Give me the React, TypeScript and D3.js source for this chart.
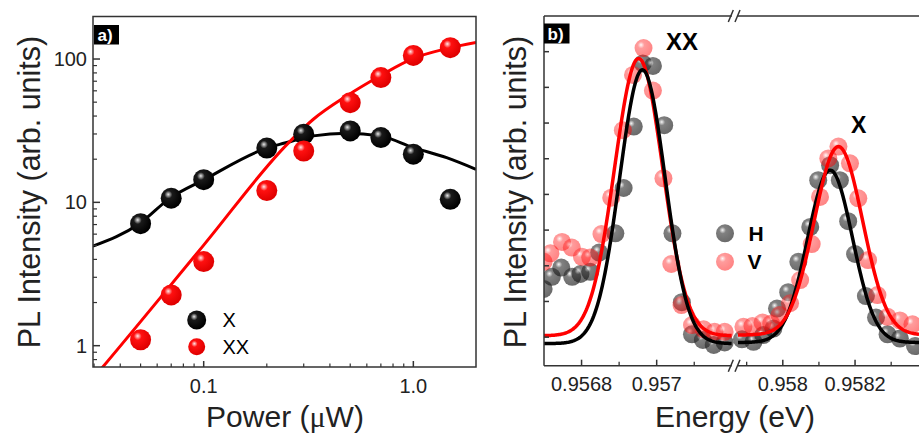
import React from 'react';
import * as d3 from 'd3';

// ---------- Panel a data ----------
const powerPts = [0.05, 0.07, 0.1, 0.2, 0.3, 0.5, 0.7, 1.0, 1.5];
const intensityX = [7.1, 10.7, 14.4, 23.9, 29.9, 31.5, 28.3, 21.7, 10.5];
const intensityXX = [1.1, 2.26, 3.86, 12.1, 22.8, 49.6, 74.2, 106, 120];

const fitPowerX = [0.0296, 0.0497, 0.0691, 0.0996, 0.1998, 0.2302, 0.258, 0.3335, 0.4808, 0.693, 1.0, 1.441, 1.99];
const fitValX = [4.95, 7.15, 10.7, 14.3, 23.9, 25.4, 26.5, 29.1, 30.4, 29.1, 24.1, 20.5, 17.0];
const fitPowerXX = [0.0296, 0.0326, 0.1, 0.2531, 0.3335, 0.4808, 0.693, 1.0, 1.441, 1.99];
const fitValXX = [0.588, 0.695, 5.03, 25.9, 38.0, 55.3, 76.2, 101, 118.2, 130.5];

const yTicksA = [1, 10, 100];
const xTickLabelsA = ['0.1', '1.0'];
const xTicksA = [0.1, 1.0];

// ---------- Panel b data ----------
const energyV = [
  0.956699, 0.956717, 0.956748, 0.956774, 0.956801, 0.956823, 0.956853, 0.956879, 0.95691, 0.956937,
  0.956965, 0.95699, 0.957018, 0.957039, 0.957066, 0.957094, 0.957125, 0.957154, 0.957181,
  0.957891, 0.957916, 0.957944, 0.957968, 0.957991, 0.95802, 0.958048, 0.95808, 0.958103, 0.958126,
  0.958154, 0.958186, 0.958209, 0.958236, 0.958262, 0.95829, 0.958324, 0.958359,
];
const intensityV = [
  3.11, 3.35, 3.67, 3.51, 3.25, 3.23, 3.89, 4.91, 6.8, 8.35,
  9.1, 7.91, 5.45, 3.05, 1.9, 1.34, 1.22, 1.15, 1.15,
  1.29, 1.31, 1.41, 1.38, 1.62, 1.95, 2.6, 3.61, 4.93, 6.01,
  6.34, 5.87, 4.89, 3.16, 2.18, 1.57, 1.47, 1.36,
];
const energyH = [
  0.956699, 0.956721, 0.956746, 0.956775, 0.956797, 0.956823, 0.956847, 0.95689, 0.956912, 0.956939,
  0.956963, 0.95699, 0.95702, 0.957042, 0.957067, 0.957094, 0.957123, 0.957152, 0.957181,
  0.957887, 0.957919, 0.957946, 0.957974, 0.957984, 0.958015, 0.958043, 0.958076, 0.958098, 0.958131,
  0.958158, 0.958181, 0.9582, 0.95823, 0.958258, 0.95829, 0.958324, 0.958366,
];
const intensityH = [
  2.35, 2.69, 2.95, 2.69, 2.77, 2.83, 3.37, 3.91, 5.18, 6.9,
  8.67, 8.6, 6.94, 3.91, 1.98, 1.08, 0.92, 0.78, 0.85,
  0.94, 0.87, 1.06, 1.24, 1.8, 2.26, 3.11, 4.09, 5.4, 5.82,
  5.4, 4.25, 3.33, 2.15, 1.55, 1.08, 0.96, 0.75,
];

// Gaussian fit parameters [XX peak, X peak]
const fitCenterV = [0.956952, 0.958154];
const fitSigmaV = [0.000064, 0.000067];
const fitAmpV = [7.77, 5.28];
const fitBaseV = [1.04, 1.06];
const fitCenterH = [0.956962, 0.958131];
const fitSigmaH = [0.0000605, 0.000062];
const fitAmpH = [7.67, 4.83];
const fitBaseH = [0.82, 0.85];

const xTicksBLeft = [0.9568, 0.957];
const xTickLabelsBLeft = ['0.9568', '0.957'];
const xMinorBLeft = [0.9569, 0.9571];
const xTicksBRight = [0.958, 0.9582];
const xTickLabelsBRight = ['0.958', '0.9582'];
const xMinorBRight = [0.9579, 0.9581, 0.9583];
const yTicksB = [1, 2, 3, 4, 5, 6, 7, 8, 9];

const FONT = "'Liberation Sans', Arial, Helvetica, sans-serif";

export default function App() {
  // Panel a scales
  const aL = 93, aR = 476, aT = 16.5, aB = 367;
  const xA = d3.scaleLog().domain([0.02965, 1.99]).range([aL, aR]);
  const yA = d3.scaleLog().domain([0.71, 198]).range([aB, aT]);
  const lineA = d3
    .line<[number, number]>()
    .x((d) => xA(d[0]))
    .y((d) => yA(d[1]))
    .curve(d3.curveMonotoneX);
  const fitXPath = lineA(fitPowerX.map((p, i) => [p, fitValX[i]]) as [number, number][]);
  const fitXXPath = lineA(fitPowerXX.map((p, i) => [p, fitValXX[i]]) as [number, number][]);
  const yMinorA = yA.ticks().filter((t) => Math.abs(Math.log10(t) - Math.round(Math.log10(t))) > 1e-6);
  const xMinorA = xA.ticks().filter((t) => Math.abs(Math.log10(t) - Math.round(Math.log10(t))) > 1e-6);

  // Panel b scales
  const bL = 544, bBreakL = 731.8, bBreakR = 738, bR = 919, bT = 16, bB = 365.7;
  const xBL = d3.scaleLinear().domain([0.9567, 0.9572]).range([bL, bBreakL]);
  const xBR = d3.scaleLinear().domain([0.957876, 0.958377]).range([bBreakR, bR]);
  const yB = d3.scaleLinear().domain([0.2, 10]).range([bB, bT]);
  const xB = (e: number) => (e < 0.9575 ? xBL(e) : xBR(e));

  const gauss = (e: number, c: number, s: number, a: number, b: number) =>
    b + a * Math.exp(-((e - c) * (e - c)) / (2 * s * s));
  const lineB = d3
    .line<[number, number]>()
    .x((d) => xB(d[0]))
    .y((d) => yB(d[1]));
  const fitPath = (
    seg: number,
    centers: number[],
    sig: number[],
    amp: number[],
    base: number[],
    dom: number[]
  ) => {
    const n = 200;
    const pts: [number, number][] = d3
      .range(n + 1)
      .map((i) => dom[0] + ((dom[1] - dom[0]) * i) / n)
      .map((e) => [e, gauss(e, centers[seg], sig[seg], amp[seg], base[seg])]);
    return lineB(pts);
  };
  const domL = xBL.domain();
  const domR = xBR.domain();

  const sphere = (id: string, hi: string, mid: string, dark: string) => (
    <radialGradient id={id} cx="0.38" cy="0.36" r="0.62" fx="0.36" fy="0.32">
      <stop offset="0" stopColor={hi} />
      <stop offset="0.3" stopColor={mid} />
      <stop offset="1" stopColor={dark} />
    </radialGradient>
  );

  return (
    <svg
      width={919}
      height={434}
      style={{ position: 'absolute', left: 0, top: 0, background: '#fff' }}
      fontFamily={FONT}
    >
      <defs>
        {sphere('gBlack', '#e8e8e8', '#1a1a1a', '#000')}
        {sphere('gRed', '#ffe8e8', '#ff1010', '#e00000')}
        {sphere('gGray', '#f0f0f0', '#333', '#111')}
        {sphere('gRedT', '#fff0f0', '#ff3030', '#ff0000')}
        <clipPath id="clipA">
          <rect x={aL} y={aT} width={aR - aL} height={aB - aT} />
        </clipPath>
        <clipPath id="clipBL">
          <rect x={bL} y={bT} width={bBreakL - bL} height={bB - bT} />
        </clipPath>
        <clipPath id="clipBR">
          <rect x={bBreakR} y={bT} width={bR - bBreakR} height={bB - bT} />
        </clipPath>
        <clipPath id="clipBAll">
          <rect x={bL} y={bT} width={bR - bL} height={bB - bT} />
        </clipPath>
      </defs>

      {/* ================= Panel a ================= */}
      <g clipPath="url(#clipA)">
        <path d={fitXPath || ''} fill="none" stroke="#000" strokeWidth={3} />
        <path d={fitXXPath || ''} fill="none" stroke="#ff0000" strokeWidth={3} />
      </g>
      {powerPts.map((p, i) => (
        <circle key={'ax' + i} cx={xA(p)} cy={yA(intensityX[i])} r={10.5} fill="url(#gBlack)" />
      ))}
      {powerPts.map((p, i) => (
        <circle key={'axx' + i} cx={xA(p)} cy={yA(intensityXX[i])} r={10.5} fill="url(#gRed)" />
      ))}
      {/* frame */}
      <rect x={aL} y={aT} width={aR - aL} height={aB - aT} fill="none" stroke="#333" strokeWidth={1.5} />
      {/* y ticks */}
      {yTicksA.map((t) => (
        <g key={'ya' + t}>
          <line x1={aL} x2={aL + 7} y1={yA(t)} y2={yA(t)} stroke="#333" strokeWidth={1.5} />
          <text x={87} y={yA(t) + 7} textAnchor="end" fontSize={20} fill="#222">
            {t}
          </text>
        </g>
      ))}
      {yMinorA.map((t) => (
        <line key={'yam' + t} x1={aL} x2={aL + 4} y1={yA(t)} y2={yA(t)} stroke="#333" strokeWidth={1.2} />
      ))}
      {xTicksA.map((t, i) => (
        <g key={'xa' + t}>
          <line x1={xA(t)} x2={xA(t)} y1={aB} y2={aB - 6} stroke="#333" strokeWidth={1.5} />
          <text x={xA(t)} y={393} textAnchor="middle" fontSize={20} fill="#222">
            {xTickLabelsA[i]}
          </text>
        </g>
      ))}
      {xMinorA.map((t) => (
        <line key={'xam' + t} x1={xA(t)} x2={xA(t)} y1={aB} y2={aB - 3.5} stroke="#333" strokeWidth={1.2} />
      ))}
      {/* legend a */}
      <circle cx={196.7} cy={320} r={9.5} fill="url(#gBlack)" />
      <circle cx={196.7} cy={346.7} r={8.5} fill="url(#gRed)" />
      <text x={222.5} y={326.5} fontSize={20} fill="#000">X</text>
      <text x={222.5} y={354} fontSize={20} fill="#000">XX</text>
      {/* label a) */}
      <rect x={94} y={25} width={25} height={19.5} fill="#000" />
      <text x={97.5} y={41} fontSize={17} fontWeight="bold" fill="#fff">a)</text>
      {/* axis titles a */}
      <text x={(aL + aR) / 2 + 0.5} y={426.5} textAnchor="middle" fontSize={30} fill="#222">
        Power (<tspan fontFamily="'Liberation Serif', 'DejaVu Serif', serif">μ</tspan>W)
      </text>
      <text
        transform={`translate(39.5, 192) rotate(-90)`}
        textAnchor="middle"
        fontSize={30.5}
        fill="#222"
      >
        PL Intensity (arb. units)
      </text>

      {/* ================= Panel b ================= */}
      <g clipPath="url(#clipBAll)">
        {energyH.map((e, i) => (
          <circle key={'bh' + i} cx={xB(e)} cy={yB(intensityH[i])} r={9} fill="url(#gGray)" fillOpacity={0.62} />
        ))}
        {energyV.map((e, i) => (
          <circle key={'bv' + i} cx={xB(e)} cy={yB(intensityV[i])} r={9} fill="url(#gRedT)" fillOpacity={0.48} />
        ))}
      </g>
      <g clipPath="url(#clipBL)">
        <path d={fitPath(0, fitCenterV, fitSigmaV, fitAmpV, fitBaseV, domL) || ''} fill="none" stroke="#ff0000" strokeWidth={3.5} />
        <path d={fitPath(0, fitCenterH, fitSigmaH, fitAmpH, fitBaseH, domL) || ''} fill="none" stroke="#000" strokeWidth={3.5} />
      </g>
      <g clipPath="url(#clipBR)">
        <path d={fitPath(1, fitCenterH, fitSigmaH, fitAmpH, fitBaseH, domR) || ''} fill="none" stroke="#000" strokeWidth={3.5} />
        <path d={fitPath(1, fitCenterV, fitSigmaV, fitAmpV, fitBaseV, domR) || ''} fill="none" stroke="#ff0000" strokeWidth={3.5} />
      </g>
      {/* frame b */}
      <g stroke="#333" strokeWidth={1.5} fill="none">
        <line x1={bL} x2={bL} y1={bT} y2={bB} />
        <line x1={bL} x2={bBreakL} y1={bB} y2={bB} />
        <line x1={bBreakR} x2={bR} y1={bB} y2={bB} />
        <line x1={bL} x2={bBreakL} y1={bT} y2={bT} />
        <line x1={bBreakR} x2={bR} y1={bT} y2={bT} />
        {[bT, bB].map((y) => (
          <g key={'brk' + y}>
            <line x1={728.3} x2={733.3} y1={y + 6} y2={y - 6} />
            <line x1={735} x2={740} y1={y + 6} y2={y - 6} />
          </g>
        ))}
      </g>
      {yTicksB.map((t) => (
        <line key={'yb' + t} x1={bL} x2={bL + 5} y1={yB(t)} y2={yB(t)} stroke="#333" strokeWidth={1.5} />
      ))}
      {xTicksBLeft.map((t, i) => (
        <g key={'xbl' + t}>
          <line x1={xBL(t)} x2={xBL(t)} y1={bB} y2={bB - 6} stroke="#333" strokeWidth={1.5} />
          <text x={xBL(t)} y={390.5} textAnchor="middle" fontSize={20} fill="#222">
            {xTickLabelsBLeft[i]}
          </text>
        </g>
      ))}
      {xMinorBLeft.map((t) => (
        <line key={'xblm' + t} x1={xBL(t)} x2={xBL(t)} y1={bB} y2={bB - 4} stroke="#333" strokeWidth={1.3} />
      ))}
      {xTicksBRight.map((t, i) => (
        <g key={'xbr' + t}>
          <line x1={xBR(t)} x2={xBR(t)} y1={bB} y2={bB - 6} stroke="#333" strokeWidth={1.5} />
          <text x={xBR(t)} y={390.5} textAnchor="middle" fontSize={20} fill="#222">
            {xTickLabelsBRight[i]}
          </text>
        </g>
      ))}
      {xMinorBRight.map((t) => (
        <line key={'xbrm' + t} x1={xBR(t)} x2={xBR(t)} y1={bB} y2={bB - 4} stroke="#333" strokeWidth={1.3} />
      ))}
      {/* legend b */}
      <circle cx={725} cy={233.3} r={9} fill="url(#gGray)" fillOpacity={0.62} />
      <circle cx={725} cy={261.7} r={9} fill="url(#gRedT)" fillOpacity={0.48} />
      <text x={748.5} y={241} fontSize={21} fontWeight="bold" fill="#000">H</text>
      <text x={747.5} y={269} fontSize={21} fontWeight="bold" fill="#000">V</text>
      {/* peak labels */}
      <text x={666} y={50} fontSize={24} fontWeight="bold" fill="#000">XX</text>
      <text x={851} y={132.5} fontSize={23} fontWeight="bold" fill="#000">X</text>
      {/* label b) */}
      <rect x={544} y={23.5} width={25.5} height={20} fill="#000" />
      <text x={547.5} y={40} fontSize={17} fontWeight="bold" fill="#fff">b)</text>
      {/* axis titles b */}
      <text x={735} y={426.5} textAnchor="middle" fontSize={30} fill="#222">
        Energy (eV)
      </text>
      <text
        transform={`translate(525.5, 192) rotate(-90)`}
        textAnchor="middle"
        fontSize={30.5}
        fill="#222"
      >
        PL Intensity (arb. units)
      </text>
    </svg>
  );
}
